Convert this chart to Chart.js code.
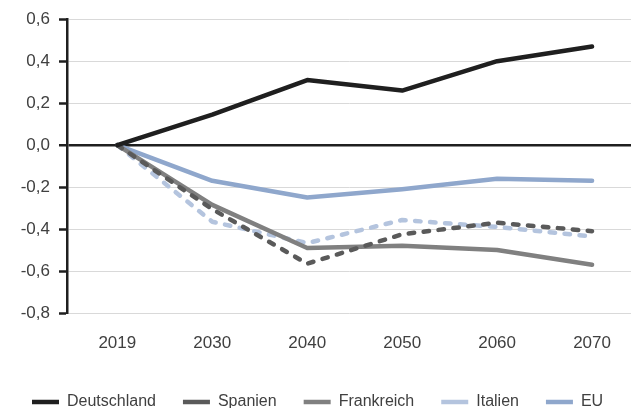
<!DOCTYPE html>
<html>
<head>
<meta charset="utf-8">
<script src="https://cdn.jsdelivr.net/npm/chart.js@4"></script>
<style>
  html, body { margin: 0; padding: 0; background: #fff; overflow: hidden; }
  #wrap { position: relative; width: 631px; height: 420px; }
</style>
</head>
<body>
<div id="wrap"><canvas id="chart"></canvas></div>
<script>
// categories and series
const years = ['2019', '2030', '2040', '2050', '2060', '2070'];
const deutschland = [0, 0.145, 0.31, 0.26, 0.40, 0.47];
const spanien = [0, -0.305, -0.565, -0.425, -0.37, -0.41];
const frankreich = [0, -0.285, -0.49, -0.48, -0.50, -0.57];
const italien = [0, -0.365, -0.467, -0.357, -0.39, -0.435];
const eu = [0, -0.17, -0.25, -0.21, -0.16, -0.17];
const yTicks = [0.6, 0.4, 0.2, 0, -0.2, -0.4, -0.6, -0.8];

const FONT = "'Liberation Sans', Arial, sans-serif";
const textColor = '#404040';

function series(label, values, color, dash) {
    return {
        label,
        data: values.map((v, i) => ({ x: i, y: v })),
        borderColor: color,
        backgroundColor: color,
        borderWidth: 4.5,
        borderDash: dash || [],
        borderCapStyle: 'round',
        borderJoinStyle: 'round',
        pointRadius: 0,
        tension: 0
    };
}

const el = document.getElementById('chart');
new Chart(el, {
    type: 'line',
    data: {
        datasets: [
            series('Deutschland', deutschland, '#1f1f1f'),
            series('Spanien', spanien, '#5a5a5a', [5.5, 9.5]),
            series('Frankreich', frankreich, '#808080'),
            series('Italien', italien, '#b4c4de', [5.5, 9.5]),
            series('EU', eu, '#8fa7cc'),
        ]
    },
    options: {
        responsive: true,
        maintainAspectRatio: false,
        animation: false,
        layout: { padding: { left: 5, right: 0, top: 9, bottom: 0 } },
        plugins: {
            tooltip: { enabled: false },
            legend: {
                position: 'bottom',
                align: 'start',
                labels: {
                    usePointStyle: true,
                    pointStyle: 'line',
                    pointStyleWidth: 27,
                    padding: 27,
                    color: textColor,
                    font: { family: FONT, size: 16 }
                }
            }
        },
        scales: {
            x: {
                type: 'linear',
                position: 'bottom',
                min: -0.53,
                max: 5.41,
                afterFit: s => { s.height = 54; },
                grid: { display: false, drawTicks: false },
                border: { display: false },
                ticks: {
                    stepSize: 1,
                    includeBounds: false,
                    padding: 20,
                    color: textColor,
                    font: { family: FONT, size: 17 },
                    callback: v => years[v] ?? ''
                }
            },
            y: {
                min: -0.8,
                max: 0.6,
                afterFit: s => { s.width = 62; },
                afterBuildTicks: s => { s.ticks = yTicks.map(v => ({ value: v })); },
                border: { color: '#1f1f1f', width: 2.5 },
                grid: {
                    color: c => c.tick && c.tick.value === 0 ? '#1f1f1f' : '#d9d9d9',
                    lineWidth: c => c.tick && c.tick.value === 0 ? 2.5 : 1,
                    tickColor: '#1f1f1f',
                    tickWidth: 2.5,
                    tickLength: 8
                },
                ticks: {
                    padding: 9,
                    color: textColor,
                    font: { family: FONT, size: 17 },
                    callback: v => v.toFixed(1).replace('.', ',')
                }
            }
        }
    }
});
</script>
</body>
</html>
